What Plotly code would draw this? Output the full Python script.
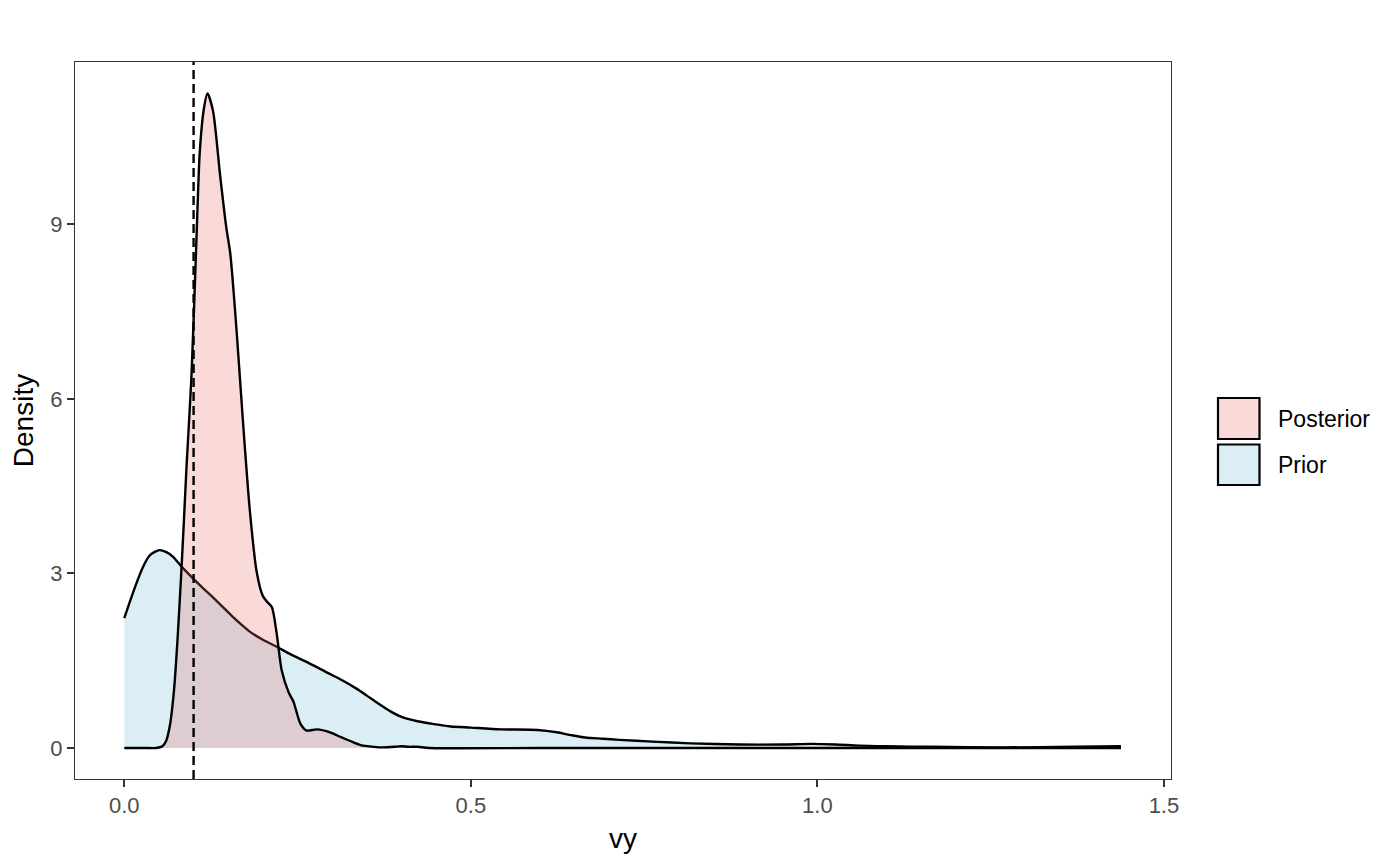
import plotly.graph_objects as go

# ---------------- data ----------------
prior_x = [0.0, 0.012, 0.027, 0.036, 0.044, 0.051, 0.060, 0.070, 0.084, 0.109,
           0.133, 0.157, 0.171, 0.181, 0.200, 0.220, 0.240, 0.263, 0.292, 0.315,
           0.335, 0.350, 0.367, 0.384, 0.403, 0.423, 0.447, 0.471, 0.500, 0.543,
           0.596, 0.624, 0.645, 0.665, 0.690, 0.714, 0.762, 0.817, 0.887, 0.950,
           0.991, 1.026, 1.060, 1.100, 1.164, 1.268, 1.373, 1.438]
prior_y = [2.23, 2.65, 3.11, 3.30, 3.37, 3.40, 3.37, 3.29, 3.10, 2.80,
           2.53, 2.25, 2.10, 2.00, 1.86, 1.74, 1.61, 1.48, 1.30, 1.16,
           1.02, 0.90, 0.76, 0.63, 0.52, 0.46, 0.41, 0.37, 0.35, 0.32,
           0.31, 0.27, 0.22, 0.18, 0.16, 0.14, 0.11, 0.08, 0.06, 0.06,
           0.07, 0.06, 0.04, 0.03, 0.02, 0.01, 0.02, 0.03]

posterior_x = [0.0, 0.030, 0.046, 0.055, 0.060, 0.066, 0.072, 0.077, 0.082, 0.086,
               0.090, 0.097, 0.104, 0.109, 0.115, 0.120, 0.128, 0.138, 0.147, 0.153,
               0.162, 0.171, 0.181, 0.191, 0.200, 0.207, 0.213, 0.220, 0.227, 0.237,
               0.244, 0.254, 0.263, 0.278, 0.297, 0.312, 0.326, 0.341, 0.360, 0.374,
               0.390, 0.399, 0.410, 0.423, 0.440, 0.600, 0.800, 1.000, 1.200, 1.438]
posterior_y = [0.0, 0.0, 0.0, 0.03, 0.11, 0.40, 1.03, 1.90, 2.96, 3.90,
               4.88, 6.40, 8.70, 10.26, 11.00, 11.25, 10.95, 9.87, 8.96, 8.49,
               7.18, 5.65, 4.10, 3.03, 2.61, 2.50, 2.42, 1.96, 1.34, 0.96,
               0.80, 0.42, 0.30, 0.32, 0.27, 0.19, 0.12, 0.05, 0.02, 0.01,
               0.02, 0.03, 0.02, 0.02, 0.0, 0.0, 0.0, 0.0, 0.0, 0.0]

reference_value = 0.1
series_names = ["Posterior", "Prior"]
x_tick_vals = [0.0, 0.5, 1.0, 1.5]
x_tick_text = ["0.0", "0.5", "1.0", "1.5"]
y_tick_vals = [0, 3, 6, 9]
y_tick_text = ["0", "3", "6", "9"]

# ---------------- style ----------------
FONT = "Liberation Sans, Arial, Helvetica, sans-serif"
POST_FILL = "rgba(232,108,100,0.25)"
PRIOR_FILL = "rgba(111,187,215,0.25)"
OFF = 8  # page body margin
W, H = 1400 - OFF, 865 - OFF
L, R, T, B = 75 - OFF, 229, 62 - OFF, 86

fig = go.Figure()
fig.add_trace(go.Scatter(
    x=prior_x, y=prior_y, name=series_names[1], mode="lines",
    fill="tozeroy", fillcolor=PRIOR_FILL,
    line=dict(color="black", width=2.4, shape="spline", smoothing=0.7),
    showlegend=False, hoverinfo="skip"))
fig.add_trace(go.Scatter(
    x=posterior_x, y=posterior_y, name=series_names[0], mode="lines",
    fill="tozeroy", fillcolor=POST_FILL,
    line=dict(color="black", width=2.4, shape="spline", smoothing=0.7),
    showlegend=False, hoverinfo="skip"))

fig.add_vline(x=reference_value, line=dict(color="black", width=2.4, dash="9px,5px"))

axis_common = dict(
    showgrid=False, zeroline=False, showline=True, mirror=True,
    linecolor="#333333", linewidth=1.1,
    ticks="outside", ticklen=7, tickwidth=1.6, tickcolor="#333333",
    tickfont=dict(family=FONT, size=22, color="#4D4D4D"),
)
fig.update_xaxes(range=[-0.0711, 1.5102], tickvals=x_tick_vals, ticktext=x_tick_text,
                 title=dict(text="vy", font=dict(family=FONT, size=28, color="black"), standoff=10),
                 **axis_common)
fig.update_yaxes(range=[-0.533, 11.79], tickvals=y_tick_vals, ticktext=y_tick_text,
                 title=dict(text="Density", font=dict(family=FONT, size=28, color="black"), standoff=8),
                 **axis_common)

# ---------------- manual ggplot-style legend (screen pixel positions) ----------------
pw, ph = W - L - R, H - T - B
def px_x(px):
    return (px - OFF - L) / pw
def px_y(py):
    return (H - B - (py - OFF)) / ph

legend_items = [(series_names[0], POST_FILL, 398, 439), (series_names[1], PRIOR_FILL, 444.5, 485)]
for name, col, y0, y1 in legend_items:
    fig.add_shape(type="rect", xref="paper", yref="paper",
                  x0=px_x(1218), x1=px_x(1259.5), y0=px_y(y1), y1=px_y(y0),
                  fillcolor=col, line=dict(color="black", width=2.2))
    fig.add_annotation(xref="paper", yref="paper", x=px_x(1276), y=px_y((y0 + y1) / 2),
                       text=name, showarrow=False, xanchor="left", yanchor="middle",
                       font=dict(family=FONT, size=23, color="black"))

fig.update_layout(
    width=W, height=H, autosize=False,
    margin=dict(l=L, r=R, t=T, b=B),
    paper_bgcolor="white", plot_bgcolor="white",
    showlegend=False,
    font=dict(family=FONT),
)

fig.write_html("out.html")
